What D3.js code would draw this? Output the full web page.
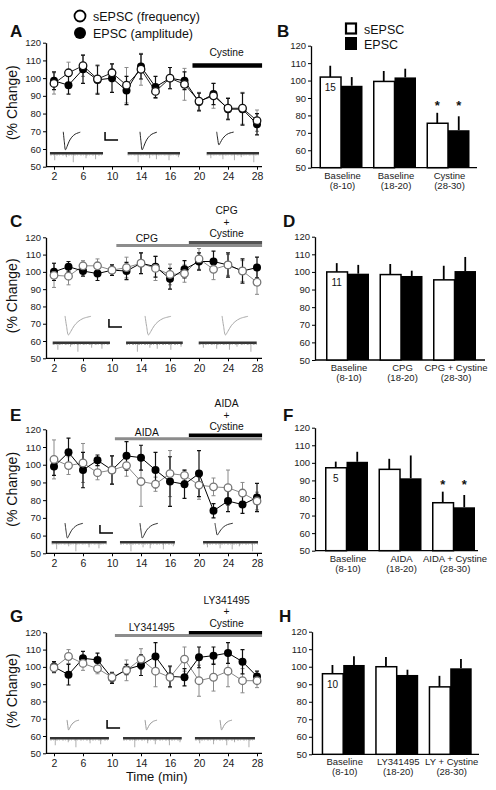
<!DOCTYPE html>
<html><head><meta charset="utf-8">
<script src="https://cdn.jsdelivr.net/npm/d3@7"></script>
<style>body{margin:0;background:#fff} svg{display:block}</style>
</head><body><svg id="fig" width="496" height="790"></svg>
<script>
// ---------------- DATA ----------------
const timeIndex = d3.range(1, 16);
const timeTickIndex = [1, 3, 5, 7, 9, 11, 13, 15];
const timeTickLabels = ["2", "6", "10", "14", "16", "20", "24", "28"];
const yTicks = [50, 60, 70, 80, 90, 100, 110, 120];

const A_sEPSC = [97, 103, 107, 99.5, 103, 96, 105, 92.5, 100, 96.5, 87, 90, 83, 83, 76];
const A_sErr  = [6, 6, 6, 8, 5, 10, 9, 4, 6, 9, 5, 7, 6, 9, 6];
const A_EPSC  = [98.5, 96, 105, 99, 100, 93, 106.5, 95, 100, 98.5, 86.5, 91, 82.5, 82.5, 74];
const A_eErr  = [5, 5, 8, 8, 8, 8, 7, 6, 6, 5, 5, 6, 6, 9, 6];

const C_sEPSC = [98, 97.5, 103.5, 103.5, 101, 102.5, 105, 102, 98.5, 99, 107.5, 101.5, 104, 100.5, 94];
const C_sErr  = [7, 5, 3, 4, 3, 6, 6, 7, 6, 5, 6, 6, 6, 6, 7];
const C_EPSC  = [100, 103, 100.5, 99, 101, 100.5, 105, 103, 96, 101.5, 106, 106, 104, 100.5, 102.5];
const C_eErr  = [5, 3, 3, 4, 3, 5, 6, 6, 6, 5, 5, 6, 7, 7, 6];

const E_sEPSC = [103, 99.5, 101, 95.5, 97, 99.5, 90.5, 89, 95, 94, 88.5, 87.5, 87, 84, 79.5];
const E_sErr  = [11, 5, 11, 4, 8, 6, 14, 4, 13, 3, 8, 5, 10, 6, 5];
const E_EPSC  = [99, 107, 97, 102.5, 97, 105, 104, 97, 90.5, 89, 95, 74, 79.5, 77.5, 81.5];
const E_eErr  = [5, 8, 10, 3, 8, 8, 7, 10, 14, 8, 13, 4, 6, 5, 8];

const G_sEPSC = [99.5, 106, 102, 99, 94, 98, 104.5, 97.5, 94, 104.5, 92, 94, 97.5, 92, 92];
const G_sErr  = [3, 4, 4, 3, 3, 6, 6, 9, 6, 7, 9, 8, 9, 7, 4];
const G_EPSC  = [100, 95.5, 105, 104, 93.5, 98.5, 101, 106, 94.5, 94, 105.5, 106.5, 108, 103, 94.5];
const G_eErr  = [3, 6, 4, 4, 3, 3, 6, 8, 6, 5, 6, 5, 6, 7, 3];

const B_cats = [["Baseline", "(8-10)"], ["Baseline", "(18-20)"], ["Cystine", "(28-30)"]];
const B_sEPSC = [102, 99.5, 75.5], B_sErr = [6.5, 6, 6];
const B_EPSC  = [97, 101.8, 71.5], B_eErr = [5, 5, 8];

const D_cats = [["Baseline", "(8-10)"], ["CPG", "(18-20)"], ["CPG + Cystine", "(28-30)"]];
const D_sEPSC = [100, 98.5, 95.5], D_sErr = [5, 6, 8];
const D_EPSC  = [99, 97.7, 100.5], D_eErr = [5, 3, 8];

const F_cats = [["Baseline", "(8-10)"], ["AIDA", "(18-20)"], ["AIDA + Cystine", "(28-30)"]];
const F_sEPSC = [97.2, 96.3, 77.3], F_sErr = [3.5, 6, 6.3];
const F_EPSC  = [100.6, 91.2, 74.7], F_eErr = [5.7, 13, 7];

const H_cats = [["Baseline", "(8-10)"], ["LY341495", "(18-20)"], ["LY + Cystine", "(28-30)"]];
const H_sEPSC = [96, 100, 88.5], H_sErr = [5, 5.5, 6.3];
const H_EPSC  = [101, 95.3, 99.1], H_eErr = [5, 3, 5.3];

// illustrative inset shapes
const waveShape = [[0,0],[0.06,0.55],[0.13,1],[0.22,0.82],[0.35,0.52],[0.5,0.3],[0.7,0.13],[1,0.02]];
const spikeFrac = [0.09, 0.31, 0.44, 0.68, 0.86];
const spikeDepth = [6, 3, 8, 4, 5];

// ---------------- DRAWING ----------------
const FONT = '"Liberation Sans", Arial, Helvetica, sans-serif';
const svg = d3.select('#fig').attr('font-family', FONT);
svg.append('rect').attr('width', 496).attr('height', 790).attr('fill', '#fff');

function txt(g, x, y, s, size, opts = {}) {
  return g.append('text').attr('x', x).attr('y', y).text(s)
    .attr('font-size', size).attr('font-family', FONT)
    .attr('text-anchor', opts.anchor || 'start')
    .attr('font-weight', opts.weight || 'normal')
    .attr('fill', opts.fill || '#111');
}

function linePanel(c) {
  const g = svg.append('g');
  const x = d3.scaleLinear().domain([1, 15]).range([54, 257]);
  const y = d3.scaleLinear().domain([50, 120]).range([c.yBot, c.yTop]);
  const axX = 46;

  const ya = g.append('g').attr('transform', `translate(${axX},0)`)
    .call(d3.axisLeft(y).tickValues(yTicks).tickSize(3).tickSizeOuter(0).tickPadding(2));
  ya.selectAll('text').attr('font-size', 9.5).attr('font-family', FONT).attr('fill', '#222');
  ya.select('.domain').attr('stroke', '#000').attr('stroke-width', 1.3);
  ya.selectAll('.tick line').attr('stroke', '#000');

  const xa = g.append('g').attr('transform', `translate(0,${c.yBot})`)
    .call(d3.axisBottom(x).tickValues(timeTickIndex).tickFormat((d, i) => timeTickLabels[i])
      .tickSize(3).tickSizeOuter(0).tickPadding(3));
  xa.select('.domain').remove();
  xa.selectAll('text').attr('font-size', 10.5).attr('font-family', FONT).attr('fill', '#222');
  xa.selectAll('.tick line').attr('stroke', '#000');
  g.append('line').attr('x1', axX).attr('x2', 262).attr('y1', c.yBot).attr('y2', c.yBot)
    .attr('stroke', '#000').attr('stroke-width', 1.3);

  g.append('text').attr('transform', `translate(17,${(c.yTop + c.yBot) / 2 - 2}) rotate(-90)`)
    .attr('text-anchor', 'middle').attr('font-size', 14).attr('font-family', FONT)
    .attr('fill', '#111').text('(% Change)');
  txt(g, 10, c.letterY, c.letter, 17, { weight: 'bold' });

  c.drugs.forEach(d => {
    g.append('line').attr('x1', x(d.from)).attr('x2', x(d.to)).attr('y1', d.y).attr('y2', d.y)
      .attr('stroke', d.color).attr('stroke-width', d.w);
  });
  c.drugLabels.forEach(l => {
    l.lines.forEach((s, i) => txt(g, x(l.at), l.ys[i], s, 10.3, { anchor: 'middle' }));
  });

  // insets (illustrative recordings)
  const ins = c.inset;
  const lvl = y(ins.level);
  ins.segs.forEach((s, k) => {
    const x0 = x(s[0]), x1 = x(s[1]);
    spikeFrac.forEach((f, j) => {
      const sx = x0 + (x1 - x0) * ((f + k * 0.11) % 1);
      g.append('line').attr('x1', sx).attr('x2', sx).attr('y1', lvl)
        .attr('y2', lvl + spikeDepth[(j + k * 2) % spikeDepth.length] + 1)
        .attr('stroke', '#999').attr('stroke-width', 0.8);
    });
    g.append('line').attr('x1', x0).attr('x2', x1).attr('y1', lvl).attr('y2', lvl)
      .attr('stroke', ins.sweepColor).attr('stroke-width', 2.4);
    g.append('line').attr('x1', x0).attr('x2', x1).attr('y1', lvl + 1.6).attr('y2', lvl + 1.6)
      .attr('stroke', '#888').attr('stroke-width', 0.8).attr('stroke-dasharray', '2,1,1,2');
  });
  const wl = d3.line().curve(d3.curveCatmullRom);
  ins.waves.forEach((w, k) => {
    const wx = x(w), wy = y(ins.waveTop);
    const dep = ins.depth[k];
    g.append('path')
      .attr('d', wl(waveShape.map(p => [wx + p[0] * ins.width, wy + p[1] * dep])))
      .attr('fill', 'none').attr('stroke', ins.waveColor).attr('stroke-width', 1);
  });
  const sbx = x(ins.sb), sby = y(ins.sbTop);
  g.append('path').attr('d', `M${sbx},${sby}V${sby + 8}H${sbx + 13}`)
    .attr('fill', 'none').attr('stroke', '#000').attr('stroke-width', 1.5);

  // series
  const line = d3.line().x((d, i) => x(timeIndex[i])).y(d => y(d));
  g.append('path').attr('d', line(c.s)).attr('fill', 'none').attr('stroke', c.openLine).attr('stroke-width', 1);
  g.append('path').attr('d', line(c.e)).attr('fill', 'none').attr('stroke', '#000').attr('stroke-width', 1);

  function errs(vals, errsArr, color, sw) {
    vals.forEach((v, i) => {
      const px = x(timeIndex[i]);
      const y1 = y(v - errsArr[i]), y2 = y(v + errsArr[i]);
      g.append('path').attr('d', `M${px},${y1}V${y2}M${px - 2},${y1}H${px + 2}M${px - 2},${y2}H${px + 2}`)
        .attr('stroke', color).attr('stroke-width', sw).attr('fill', 'none');
    });
  }
  errs(c.s, c.sErr, '#8a8a8a', 1);
  errs(c.e, c.eErr, '#111', 1.2);

  g.selectAll(null).data(c.e).enter().append('circle')
    .attr('cx', (d, i) => x(timeIndex[i])).attr('cy', d => y(d)).attr('r', 4).attr('fill', '#000');
  g.selectAll(null).data(c.s).enter().append('circle')
    .attr('cx', (d, i) => x(timeIndex[i])).attr('cy', d => y(d)).attr('r', 3.8)
    .attr('fill', '#fff').attr('stroke', c.openStroke).attr('stroke-width', 1.3);
}

function barPanel(c) {
  const g = svg.append('g');
  const y = d3.scaleLinear().domain([50, 120]).range([c.yBot, c.yTop]);
  const step = 53.5, pIn = 10.5 / 53.5;
  const x0 = d3.scaleBand().domain(d3.range(3))
    .range([c.first - 5.25, c.first - 5.25 + 3 * step]).paddingInner(pIn).paddingOuter(pIn / 2);
  const x1 = d3.scaleBand().domain(['s', 'e']).range([0, x0.bandwidth()]);

  const ya = g.append('g').attr('transform', `translate(${c.axX},0)`)
    .call(d3.axisLeft(y).tickValues(yTicks).tickSize(3).tickSizeOuter(0).tickPadding(2));
  ya.selectAll('text').attr('font-size', 9.5).attr('font-family', FONT).attr('fill', '#222');
  ya.select('.domain').attr('stroke', '#000').attr('stroke-width', 1.3);
  ya.selectAll('.tick line').attr('stroke', '#000');
  g.append('line').attr('x1', c.axX).attr('x2', c.axEnd).attr('y1', c.yBot).attr('y2', c.yBot)
    .attr('stroke', '#000').attr('stroke-width', 1.3);

  txt(g, c.letterX, c.letterY, c.letter, 17, { weight: 'bold' });

  d3.range(3).forEach(i => {
    const gx = x0(i);
    const sx = gx + x1('s'), ex = gx + x1('e'), bw = x1.bandwidth();
    g.append('line').attr('x1', sx + bw / 2).attr('x2', sx + bw / 2)
      .attr('y1', y(c.s[i])).attr('y2', y(c.s[i] + c.sErr[i])).attr('stroke', '#000').attr('stroke-width', 1.8);
    g.append('line').attr('x1', ex + bw / 2).attr('x2', ex + bw / 2)
      .attr('y1', y(c.e[i])).attr('y2', y(c.e[i] + c.eErr[i])).attr('stroke', '#000').attr('stroke-width', 1.8);
    g.append('rect').attr('x', sx + 0.75).attr('y', y(c.s[i])).attr('width', bw - 0.75)
      .attr('height', c.yBot - y(c.s[i])).attr('fill', '#fff').attr('stroke', '#000').attr('stroke-width', 1.5);
    g.append('rect').attr('x', ex).attr('y', y(c.e[i])).attr('width', bw)
      .attr('height', c.yBot - y(c.e[i])).attr('fill', '#000');
    const cx = gx + x0.bandwidth() / 2 + 1.5;
    txt(g, cx, c.yBot + 11, c.cats[i][0], 9.5, { anchor: 'middle', fill: '#222' });
    txt(g, cx, c.yBot + 21, c.cats[i][1], 9.5, { anchor: 'middle', fill: '#222' });
    if (c.sig && c.sig[i]) {
      const top = Math.max(c.s[i] + c.sErr[i], c.e[i] + c.eErr[i]);
      const ay = y(top) - 3;
      txt(g, sx + bw / 2, ay, '*', 13, { anchor: 'middle', weight: 'bold' });
      txt(g, ex + bw / 2, ay, '*', 13, { anchor: 'middle', weight: 'bold' });
    }
  });
  const nx = x0(0) + x1('s') + x1.bandwidth() / 2;
  txt(g, nx, y(c.s[0]) + 14, c.n, 10, { anchor: 'middle' });
}

// ---------- Panels ----------
linePanel({
  letter: 'A', letterY: 37, yTop: 42.7, yBot: 166.7,
  s: A_sEPSC, sErr: A_sErr, e: A_EPSC, eErr: A_eErr,
  openStroke: '#111', openLine: '#222',
  drugs: [{ from: 10.55, to: 15.35, y: 65.5, color: '#000', w: 4.4 }],
  drugLabels: [{ at: 12.9, lines: ['Cystine'], ys: [56] }],
  inset: { level: 57.6, segs: [[0.72, 4.38], [6.08, 9.69], [11.53, 15.14]], sweepColor: '#333',
    waves: [1.64, 6.93, 12.22], depth: [18, 18, 13], width: 17, waveTop: 69.7, waveColor: '#222',
    sb: 4.52, sbTop: 69.6 }
});
linePanel({
  letter: 'C', letterY: 227, yTop: 237.3, yBot: 358.3,
  s: C_sEPSC, sErr: C_sErr, e: C_EPSC, eErr: C_eErr,
  openStroke: '#777', openLine: '#888',
  drugs: [{ from: 5.3, to: 15.35, y: 245.6, color: '#8c8c8c', w: 3 },
          { from: 10.3, to: 15.35, y: 242.6, color: '#555', w: 3 }],
  drugLabels: [{ at: 7.4, lines: ['CPG'], ys: [242] },
               { at: 12.9, lines: ['CPG', '+', 'Cystine'], ys: [214, 226, 236.5] }],
  inset: { level: 59, segs: [[0.91, 4.86], [5.97, 9.88], [10.98, 14.98]], sweepColor: '#333',
    waves: [1.76, 7.28, 12.59], depth: [19, 19, 19], width: 26, waveTop: 74.5, waveColor: '#aaa',
    sb: 4.79, sbTop: 72.7 }
});
linePanel({
  letter: 'E', letterY: 421, yTop: 429.3, yBot: 553.3,
  s: E_sEPSC, sErr: E_sErr, e: E_EPSC, eErr: E_eErr,
  openStroke: '#777', openLine: '#888',
  drugs: [{ from: 5.2, to: 15.35, y: 438.7, color: '#8c8c8c', w: 3 },
          { from: 10.3, to: 15.35, y: 435.3, color: '#000', w: 3.4 }],
  drugLabels: [{ at: 7.4, lines: ['AIDA'], ys: [435.5] },
               { at: 12.9, lines: ['AIDA', '+', 'Cystine'], ys: [406.5, 418.5, 430] }],
  inset: { level: 56.2, segs: [[0.84, 4.63], [5.55, 9.34], [11.28, 15.07]], sweepColor: '#333',
    waves: [1.76, 6.93, 12.1], depth: [15, 15, 12], width: 18, waveTop: 67.1, waveColor: '#333',
    sb: 4.17, sbTop: 66 }
});
linePanel({
  letter: 'G', letterY: 622, yTop: 632.3, yBot: 753.3,
  s: G_sEPSC, sErr: G_sErr, e: G_EPSC, eErr: G_eErr,
  openStroke: '#777', openLine: '#888',
  drugs: [{ from: 5.2, to: 15.35, y: 635.6, color: '#8c8c8c', w: 3 },
          { from: 10.3, to: 15.35, y: 632.6, color: '#000', w: 3.2 }],
  drugLabels: [{ at: 7.74, lines: ['LY341495'], ys: [631] },
               { at: 12.9, lines: ['LY341495', '+', 'Cystine'], ys: [604, 615, 627] }],
  inset: { level: 58.7, segs: [[0.72, 4.79], [5.76, 9.81], [10.72, 14.86]], sweepColor: '#333',
    waves: [1.9, 7.28, 12.45], depth: [10, 10, 10], width: 12, waveTop: 69.3, waveColor: '#999',
    sb: 4.66, sbTop: 69.3 }
});
txt(svg, 156.7, 781, 'Time (min)', 13, { anchor: 'middle' });

barPanel({ letter: 'B', letterX: 277, letterY: 37, yTop: 45.7, yBot: 167.7, axX: 311, axEnd: 477, first: 319.5,
  cats: B_cats, s: B_sEPSC, sErr: B_sErr, e: B_EPSC, eErr: B_eErr, n: '15', sig: [false, false, true] });
barPanel({ letter: 'D', letterX: 283, letterY: 227, yTop: 236.7, yBot: 360, axX: 315, axEnd: 485, first: 326,
  cats: D_cats, s: D_sEPSC, sErr: D_sErr, e: D_EPSC, eErr: D_eErr, n: '11' });
barPanel({ letter: 'F', letterX: 283, letterY: 421, yTop: 427.7, yBot: 550.7, axX: 315, axEnd: 478, first: 325,
  cats: F_cats, s: F_sEPSC, sErr: F_sErr, e: F_EPSC, eErr: F_eErr, n: '5', sig: [false, false, true] });
barPanel({ letter: 'H', letterX: 279, letterY: 622, yTop: 631.7, yBot: 754.3, axX: 312, axEnd: 479, first: 321.7,
  cats: H_cats, s: H_sEPSC, sErr: H_sErr, e: H_EPSC, eErr: H_eErr, n: '10' });

const lg = svg.append('g');
lg.append('circle').attr('cx', 80).attr('cy', 16).attr('r', 5.5).attr('fill', '#fff').attr('stroke', '#000').attr('stroke-width', 1.8);
lg.append('circle').attr('cx', 80).attr('cy', 33).attr('r', 6).attr('fill', '#000');
txt(lg, 93, 21, 'sEPSC (frequency)', 12.5);
txt(lg, 93, 38, 'EPSC (amplitude)', 12.5);
lg.append('rect').attr('x', 346).attr('y', 23.5).attr('width', 10).attr('height', 10).attr('fill', '#fff').attr('stroke', '#000').attr('stroke-width', 2.2);
lg.append('rect').attr('x', 345).attr('y', 37).attr('width', 12).attr('height', 13).attr('fill', '#000');
txt(lg, 364, 33.5, 'sEPSC', 12.5);
txt(lg, 364, 48.5, 'EPSC', 12.5);
</script></body></html>
